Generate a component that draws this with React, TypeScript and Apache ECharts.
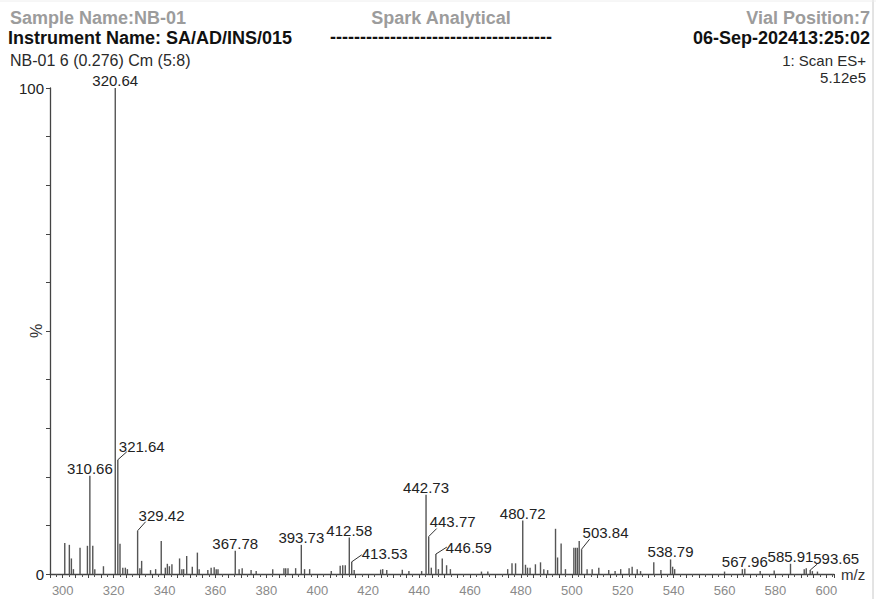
import React, { useEffect, useRef } from 'react';
import * as echarts from 'echarts';

// ---- data (m/z, relative intensity %) ----
const peakMz = [
  300.8, 302.6, 303.4, 304.2, 306.8, 309.7, 310.66, 311.8, 312.6, 316.0,
  320.64, 321.64, 322.5, 323.6, 324.6, 325.4, 329.42, 330.3, 331.0, 334.5,
  336.5, 338.7, 340.3, 341.1, 341.9, 342.9, 345.9, 346.8, 347.5, 348.7,
  350.9, 352.9, 353.6, 357.0, 358.3, 359.5, 360.3, 361.0, 367.78, 369.3,
  370.5, 374.0, 376.0, 382.5, 386.9, 387.6, 388.5, 391.5, 393.73, 395.0,
  397.0, 405.5, 409.0, 410.0, 411.0, 412.58, 413.53, 414.5, 424.9, 425.7,
  427.3, 433.4, 436.0, 441.0, 442.73, 443.77, 444.8, 446.59, 447.6, 449.1,
  450.8, 452.3, 464.5, 467.0, 474.8, 476.5, 477.9, 480.72, 481.8, 482.6,
  483.6, 485.7, 487.7, 489.0, 490.5, 493.6, 494.4, 495.8, 497.5, 500.8,
  501.5, 502.2, 502.9, 503.84, 506.0, 508.0, 510.6, 514.5, 517.0, 519.2,
  522.5, 523.7, 525.7, 527.0, 532.2, 535.0, 538.79, 539.6, 540.4, 560.0,
  567.0, 567.96, 574.0, 579.5, 585.91, 591.3, 592.1, 593.65, 594.5, 596.5,
];
const peakPct = [
  6.4, 6.0, 3.2, 1.0, 5.4, 5.8, 20.2, 5.8, 1.0, 1.6,
  100, 23.5, 6.2, 1.3, 1.3, 1.0, 8.9, 1.2, 2.7, 0.8,
  1.0, 6.8, 1.3, 2.1, 1.6, 2.0, 3.2, 1.0, 1.0, 3.7,
  1.5, 4.4, 1.0, 0.8, 1.3, 1.4, 1.0, 1.0, 4.8, 1.0,
  1.2, 0.8, 0.6, 1.0, 1.2, 1.2, 1.2, 1.2, 6.0, 1.0,
  1.0, 0.6, 1.7, 1.8, 1.8, 7.5, 2.5, 0.8, 0.9, 1.0,
  0.8, 0.9, 0.6, 0.6, 16.3, 7.7, 1.3, 4.1, 1.0, 3.2,
  1.8, 1.0, 0.5, 0.5, 1.0, 2.2, 2.2, 11.0, 1.9, 1.3,
  1.3, 2.0, 2.4, 1.0, 0.8, 9.3, 3.4, 6.3, 1.0, 5.4,
  5.4, 5.4, 6.8, 5.1, 1.0, 1.0, 1.3, 0.8, 0.6, 1.0,
  1.2, 1.5, 1.0, 0.6, 2.4, 0.8, 3.0, 1.5, 1.0, 0.5,
  1.0, 1.1, 0.6, 0.7, 2.1, 1.0, 1.2, 0.8, 0.6, 0.5,
];
const labeledMz = [
  310.66, 320.64, 321.64, 329.42, 367.78, 393.73, 412.58, 413.53, 442.73,
  443.77, 446.59, 480.72, 503.84, 538.79, 567.96, 585.91, 593.65,
];
const xTickLabels = [300, 320, 340, 360, 380, 400, 420, 440, 460, 480, 500, 520, 540, 560, 580, 600];
const yTickLabels = [0, 100];

const headerLeft1 = 'Sample Name:NB-01';
const headerCenter1 = 'Spark Analytical';
const headerRight1 = 'Vial Position:7';
const headerLeft2 = 'Instrument Name: SA/AD/INS/015';
const headerCenter2 = '-------------------------------------';
const headerRight2 = '06-Sep-202413:25:02';
const headerLeft3 = 'NB-01 6 (0.276) Cm (5:8)';
const headerRight3 = '1: Scan ES+';
const headerRight4 = '5.12e5';

// ---- label styling (offsets of shifted labels, in px) ----
const shiftedLabelStyle: Record<string, { tx: number; ty: number; lx: number; ly: number; mid?: boolean }> = {
  '321.64': { tx: 1, ty: 6, lx: 9, ly: 8 },
  '329.42': { tx: 1, ty: 8, lx: 8, ly: 9 },
  '443.77': { tx: 1, ty: 8, lx: 8, ly: 8 },
  '503.84': { tx: 1, ty: 9, lx: 8, ly: 10 },
  '593.65': { tx: 3, ty: 4, lx: 7, ly: 6 },
  '413.53': { tx: 10, ty: 8, lx: 10, ly: 7, mid: true },
  '446.59': { tx: 10, ty: 7, lx: 11, ly: 7, mid: true },
};

const FONT = '"Liberation Sans", Arial, Helvetica, sans-serif';

export default function App() {
  const ref = useRef<HTMLDivElement>(null);

  useEffect(() => {
    if (!ref.current) return;
    const chart = echarts.init(ref.current, undefined, { renderer: 'svg' });
    const labeledSet = new Set(labeledMz.map((v) => v.toFixed(2)));
    const data = peakMz.map((m, i) => [m, peakPct[i]]);

    const txt = (text: string, x: number, y: number, font: string, fill: string, align: string) => ({
      type: 'text',
      x,
      y,
      style: { text, font, fill, align, verticalAlign: 'middle', textAlign: align, textVerticalAlign: 'middle' },
    });

    const option: any = {
      animation: false,
      backgroundColor: '#ffffff',
      grid: { left: 50, right: 42, top: 88, bottom: 25, containLabel: false, outerBoundsMode: 'none' },
      xAxis: {
        type: 'value',
        min: 295,
        max: 603,
        interval: 5,
        name: 'm/z',
        nameLocation: 'end',
        nameGap: 7,
        nameTextStyle: { fontFamily: FONT, fontSize: 15, color: '#333', verticalAlign: 'middle' },
        axisLine: { show: true, onZero: false, lineStyle: { color: '#444', width: 1.3 } },
        axisTick: { show: true, length: 4, lineStyle: { color: '#444', width: 1 } },
        minorTick: { show: true, splitNumber: 2, length: 3, lineStyle: { color: '#555', width: 1 } },
        axisLabel: {
          margin: 10,
          fontFamily: FONT,
          fontSize: 13,
          color: '#8a8a8a',
          formatter: (v: number) => (xTickLabels.includes(v) ? String(v) : ''),
        },
        splitLine: { show: false },
      },
      yAxis: {
        type: 'value',
        min: 0,
        max: 100,
        interval: 10,
        name: '%',
        nameLocation: 'middle',
        nameRotate: 90,
        nameGap: 6,
        nameMoveOverlap: false,
        nameTextStyle: { fontFamily: FONT, fontSize: 16, color: '#333' },
        axisLine: { show: true, lineStyle: { color: '#444', width: 1.3 } },
        axisTick: { show: true, length: 4, lineStyle: { color: '#444', width: 1 } },
        axisLabel: {
          margin: 6,
          fontFamily: FONT,
          fontSize: 15,
          color: '#222',
          formatter: (v: number) => (yTickLabels.includes(v) ? String(v) : ''),
        },
        splitLine: { show: false },
      },
      series: [
        {
          type: 'custom',
          data,
          clip: false,
          renderItem: (params: any, api: any) => {
            const mz = api.value(0) as number;
            const pct = api.value(1) as number;
            const base = api.coord([mz, 0]);
            const top = api.coord([mz, pct]);
            const children: any[] = [
              {
                type: 'line',
                shape: { x1: base[0], y1: base[1], x2: top[0], y2: top[1] },
                style: { stroke: '#555', lineWidth: 1.4 },
              },
            ];
            const key = mz.toFixed(2);
            if (labeledSet.has(key)) {
              const s = shiftedLabelStyle[key];
              const textFont = `15px ${FONT}`;
              if (s) {
                children.push({
                  type: 'line',
                  shape: { x1: top[0], y1: top[1], x2: top[0] + s.lx, y2: top[1] - s.ly },
                  style: { stroke: '#333', lineWidth: 1 },
                });
                children.push({
                  type: 'text',
                  x: top[0] + s.tx,
                  y: top[1] - s.ty,
                  style: {
                    text: key,
                    font: textFont,
                    fill: '#222',
                    align: 'left',
                    verticalAlign: s.mid ? 'middle' : 'bottom',
                    textAlign: 'left',
                    textVerticalAlign: s.mid ? 'middle' : 'bottom',
                  },
                });
              } else {
                children.push({
                  type: 'text',
                  x: top[0],
                  y: top[1],
                  style: {
                    text: key,
                    font: textFont,
                    fill: '#222',
                    align: 'center',
                    verticalAlign: 'bottom',
                    textAlign: 'center',
                    textVerticalAlign: 'bottom',
                  },
                });
              }
            }
            return { type: 'group', children };
          },
        },
      ],
      graphic: [
        { type: 'line', shape: { x1: 873, y1: 0, x2: 873, y2: 599 }, style: { stroke: '#c8c8c8', lineWidth: 1 } },
        { type: 'line', shape: { x1: 0, y1: 1, x2: 876, y2: 1 }, style: { stroke: '#eeeeee', lineWidth: 1 } },
        txt(headerLeft1, 10, 18, `bold 18px ${FONT}`, '#9c9c9c', 'left'),
        txt(headerCenter1, 441, 18, `bold 18px ${FONT}`, '#9c9c9c', 'center'),
        txt(headerRight1, 870, 18, `bold 18px ${FONT}`, '#9c9c9c', 'right'),
        txt(headerLeft2, 8, 38, `bold 18px ${FONT}`, '#111', 'left'),
        txt(headerCenter2, 441, 37, `bold 18px ${FONT}`, '#111', 'center'),
        txt(headerRight2, 870, 38, `bold 18px ${FONT}`, '#111', 'right'),
        txt(headerLeft3, 10, 60, `16px ${FONT}`, '#2a2a2a', 'left'),
        txt(headerRight3, 866, 60, `15px ${FONT}`, '#2a2a2a', 'right'),
        txt(headerRight4, 866, 77, `15px ${FONT}`, '#2a2a2a', 'right'),
      ],
    };

    chart.setOption(option);
    return () => chart.dispose();
  }, []);

  return (
    <div
      ref={ref}
      style={{ position: 'fixed', left: 0, top: 0, width: 876, height: 599, background: '#fff' }}
    />
  );
}
